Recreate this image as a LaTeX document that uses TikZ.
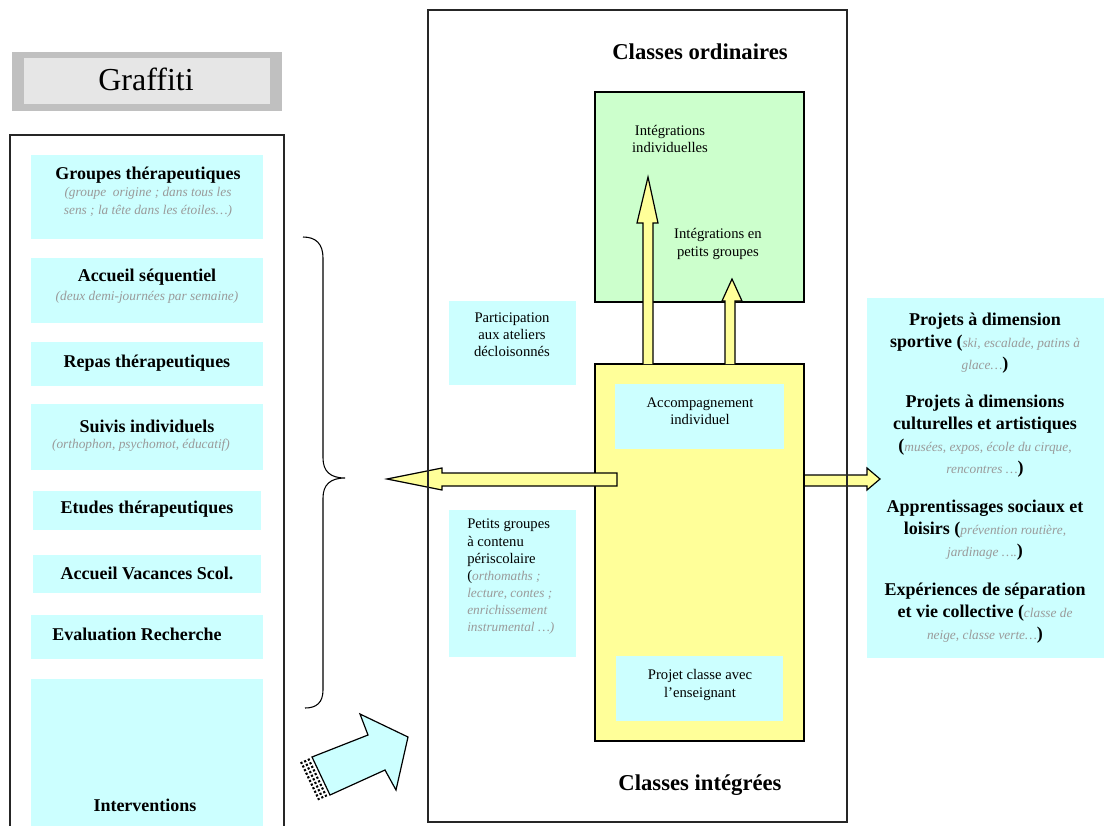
\documentclass[tikz,border=0pt]{standalone}
\usepackage{fontspec}
\setmainfont{Liberation Serif}
\usetikzlibrary{fit,calc}
\definecolor{cyanbg}{HTML}{CCFFFF}
\definecolor{greenbg}{HTML}{CCFFCC}
\definecolor{yellowbg}{HTML}{FFFF99}
\definecolor{graytxt}{HTML}{9A9A9A}
\definecolor{grafout}{HTML}{C0C0C0}
\definecolor{grafin}{HTML}{E6E6E6}
\newcommand\gi[1]{{\normalfont\fontsize{10}{13}\selectfont\itshape\color{graytxt}#1}}
\begin{document}
\begin{tikzpicture}[x=0.75pt,y=-0.75pt,
  panel/.style={draw=black!85,line width=1.3pt},
  cbox/.style={fill=cyanbg,inner sep=0pt,outer sep=0pt},
  head/.style={font=\fontsize{13.5}{16.5}\selectfont\bfseries,align=center,inner sep=0pt},
  big/.style={font=\fontsize{17}{20}\selectfont\bfseries,align=center,inner sep=0pt},
  small/.style={font=\fontsize{11}{12.8}\selectfont,align=center,inner sep=0pt},
  note/.style={font=\fontsize{10}{13.5}\selectfont\itshape,text=graytxt,align=center,inner sep=0pt},
  barrow/.style={fill=yellowbg,draw=black,line width=0.9pt,line join=miter},
  carrow/.style={fill=cyanbg,draw=black,line width=0.9pt,line join=miter}]
\useasboundingbox (0,0) rectangle (1110,825);
\fill[white] (0,0) rectangle (1110,825);

% Graffiti
\node[fill=grafout,inner sep=0pt,fit={(12,52)(282,111)}] (grafo) {};
\node[fill=grafin,inner sep=0pt,fit={(24,58)(270,104)}] (grafi) {};
\node[font=\fontsize{24}{28}\selectfont,inner sep=0pt] (graft) at (146,79) {Graffiti};

% left panel
\draw[panel] (10,830) |- (284,135) -- (284,830);
\node[cbox,fit={(31,155)(263,239)}] (l1) {};
\node[cbox,fit={(31,258)(263,323)}] (l2) {};
\node[cbox,fit={(31,342)(263,386)}] (l3) {};
\node[cbox,fit={(31,404)(263,470)}] (l4) {};
\node[cbox,fit={(33,491)(261,530)}] (l5) {};
\node[cbox,fit={(33,555)(261,593)}] (l6) {};
\node[cbox,fit={(31,615)(263,659)}] (l7) {};
\node[cbox,fit={(31,679)(263,830)}] (l8) {};
\node[head] (t1) at (148,175) {Groupes thérapeutiques};
\node[note] (n1) at (148,202) {(groupe \ origine ; dans tous les\\sens ; la tête dans les étoiles…)};
\node[head] (t2) at (147,277) {Accueil séquentiel};
\node[note] (n2) at (147,297) {(deux demi-journées par semaine)};
\node[head] (t3) at (147,363) {Repas thérapeutiques};
\node[head] (t4) at (147,426) {Suivis individuels};
\node[note] (n4) at (141,445) {(orthophon, psychomot, éducatif)};
\node[head] (t5) at (147,509) {Etudes thérapeutiques};
\node[head] (t6) at (147,573) {Accueil Vacances Scol.};
\node[head] (t7) at (137,634) {Evaluation Recherche};
\node[head] (t8) at (145,805) {Interventions};

% brace
\coordinate (bt) at (345,478);
\draw[line width=0.8pt] (303,237) .. controls (316,237) and (323,244) .. (323,258) -- (323,458)
  .. controls (323,471) and (330,478) .. (bt)
  .. controls (330,478) and (323,485) .. (323,498) -- (323,690)
  .. controls (323,703) and (316,708) .. (305,708);

% big cyan arrow
\draw[carrow] (312,757) -- (368,735) -- (360,714) -- (408,737) -- (396,790) -- (385,770) -- (330,795) -- cycle;
\foreach \s in {4,8,12}{
  \draw[line width=1.6pt,dash pattern=on 1.6pt off 1.4pt] ($(312,757)+(-0.913*\s,0.409*\s)$) -- ($(330,795)+(-0.913*\s,0.409*\s)$);
}

% right box
\node[cbox,fit={(867,298)(1104,658)}] (r) {};

% center panel contents
\node[cbox,fit={(449,301)(576,385)}] (c1) {};
\node[cbox,fit={(449,510)(576,657)}] (c2) {};
\node[fill=greenbg,draw=black,line width=0.9pt,inner sep=0pt,fit={(595,92)(804,302)}] (green) {};
\node[fill=yellowbg,draw=black,line width=0.9pt,inner sep=0pt,fit={(595,364)(804,741)}] (yellow) {};
\node[cbox,fit={(615,384)(784,449)}] (acc) {};
\node[cbox,fit={(616,656)(783,721)}] (proj) {};

% arrows
\draw[barrow] (643,364) -- (643,223) -- (637,223) -- (648,177) -- (658,223) -- (653,223) -- (653,364);
\draw[barrow] (725,364) -- (725,301) -- (722,301) -- (732,279) -- (742,301) -- (735,301) -- (735,364);
\draw[barrow] (617,473) -- (442,473) -- (442,468) -- (387,479) -- (442,490) -- (442,486) -- (617,486) -- cycle;
\draw[barrow] (805,475) -- (867,475) -- (867,468) -- (880,479) -- (867,490) -- (867,486) -- (805,486);

\draw[panel] (428,10) rectangle (847,822);

\node[big] (ord) at (700,52) {Classes ordinaires};
\node[big] (int) at (700,785) {Classes intégrées};
\node[small] (s1) at (670,139) {Intégrations\\individuelles};
\node[small] (s2) at (718,244) {Intégrations en\\petits groupes};
\node[small] (s3) at (512,335) {Participation\\aux ateliers\\décloisonnés};
\node[small,align=left,anchor=north west] (s4) at (467,519) {Petits groupes\\à contenu\\périscolaire\\(\gi{orthomaths ;}\\\gi{lecture, contes ;}\\\gi{enrichissement}\\\gi{instrumental …)}};
\node[small] (s5) at (700,411) {Accompagnement\\individuel};
\node[small] (s6) at (700,685) {Projet classe avec\\l'enseignant};

% right box texts
\node[head] (r1) at (985,343) {Projets à dimension\\sportive (\gi{ski, escalade, patins à}\\\gi{glace…})};
\node[head] (r2) at (985,436) {Projets à dimensions\\culturelles et artistiques\\(\gi{musées, expos, école du cirque,}\\\gi{rencontres …})};
\node[head] (r3) at (985,530) {Apprentissages sociaux et\\loisirs (\gi{prévention routière,}\\\gi{jardinage ….})};
\node[head] (r4) at (985,613) {Expériences de séparation\\et vie collective (\gi{classe de}\\\gi{neige, classe verte…})};
\end{tikzpicture}
\end{document}
